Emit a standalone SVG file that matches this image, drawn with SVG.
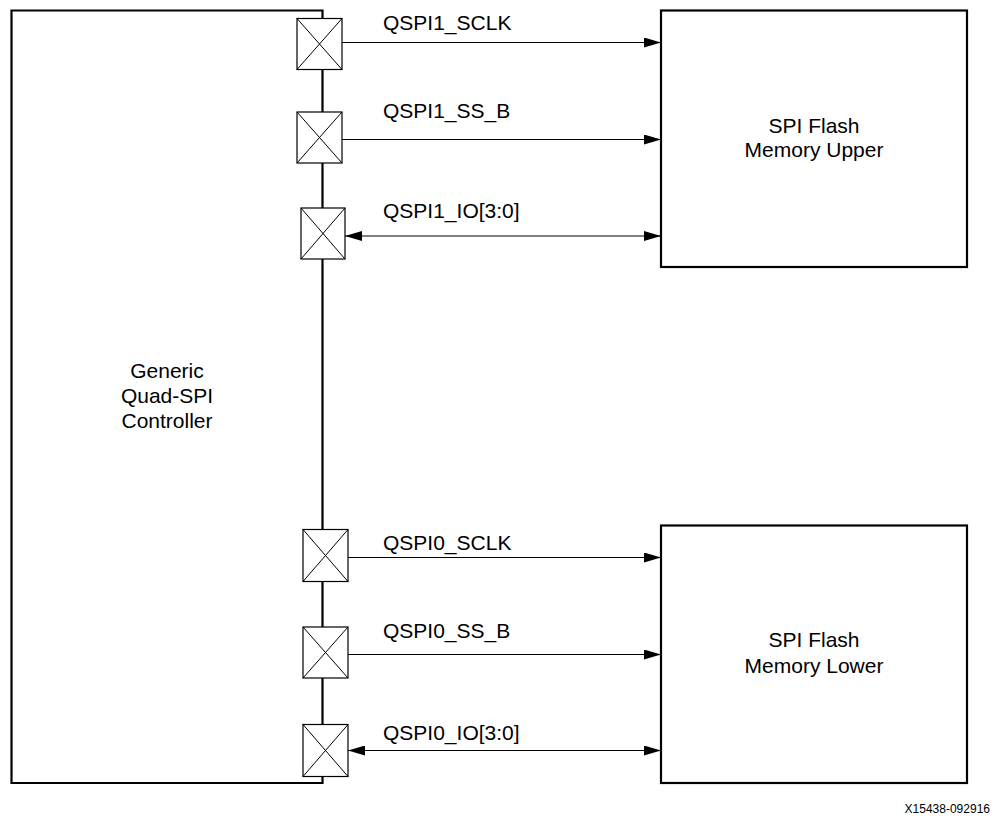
<svg xmlns="http://www.w3.org/2000/svg" width="999" height="819" viewBox="0 0 999 819">
<defs>
<style>
.blk{fill:#fff;stroke:#000;stroke-width:2.2}
.pad{fill:#fff;stroke:#000;stroke-width:1.2}
.padx{stroke:#000;stroke-width:1}
.wire{stroke:#000;stroke-width:1.2;fill:none}
.t{font-family:"Liberation Sans",Arial,sans-serif;font-size:21px;fill:#000}
.c{text-anchor:middle}
.f{font-family:"Liberation Sans",Arial,sans-serif;font-size:12px;fill:#000}
</style>
<marker id="ah" viewBox="0 0 17 10" refX="17" refY="5" markerWidth="17" markerHeight="10" markerUnits="userSpaceOnUse" orient="auto-start-reverse">
<path d="M0,0 L17,5 L0,10 Z" fill="#000"/>
</marker>
</defs>
<g id="controller">
<path class="blk" d="M11.5,783 L11.5,10.5 L322.5,10.5 L322.5,783 Z"/>
<text class="t c" x="167" y="378">Generic</text>
<text class="t c" x="167" y="403">Quad-SPI</text>
<text class="t c" x="167" y="428">Controller</text>
</g>
<g id="flash_upper">
<rect class="blk" x="661" y="10.5" width="306" height="256.5"/>
<text class="t c" x="814" y="133">SPI Flash</text>
<text class="t c" x="814" y="157">Memory Upper</text>
</g>
<g id="flash_lower">
<rect class="blk" x="661" y="525.5" width="306" height="257.5"/>
<text class="t c" x="814" y="647">SPI Flash</text>
<text class="t c" x="814" y="673">Memory Lower</text>
</g>
<g id="pad1"><rect class="pad" x="297" y="18.5" width="45" height="51"/><path class="padx" d="M297,18.5 L342,69.5 M342,18.5 L297,69.5"/></g>
<g id="pad2"><rect class="pad" x="297" y="112" width="45" height="51"/><path class="padx" d="M297,112 L342,163 M342,112 L297,163"/></g>
<g id="pad3"><rect class="pad" x="301" y="208" width="44" height="51"/><path class="padx" d="M301,208 L345,259 M345,208 L301,259"/></g>
<g id="pad4"><rect class="pad" x="303" y="529.5" width="45" height="52"/><path class="padx" d="M303,529.5 L348,581.5 M348,529.5 L303,581.5"/></g>
<g id="pad5"><rect class="pad" x="303" y="627" width="45" height="51"/><path class="padx" d="M303,627 L348,678 M348,627 L303,678"/></g>
<g id="pad6"><rect class="pad" x="303" y="724.5" width="45" height="52"/><path class="padx" d="M303,724.5 L348,776.5 M348,724.5 L303,776.5"/></g>
<g id="connectors">
<line class="wire" x1="342" y1="42.5" x2="661" y2="42.5" marker-end="url(#ah)"/>
<line class="wire" x1="342" y1="139.5" x2="661" y2="139.5" marker-end="url(#ah)"/>
<line class="wire" x1="345" y1="236" x2="661" y2="236" marker-start="url(#ah)" marker-end="url(#ah)"/>
<line class="wire" x1="348" y1="557.5" x2="661" y2="557.5" marker-end="url(#ah)"/>
<line class="wire" x1="348" y1="654.5" x2="661" y2="654.5" marker-end="url(#ah)"/>
<line class="wire" x1="348" y1="750.5" x2="661" y2="750.5" marker-start="url(#ah)" marker-end="url(#ah)"/>
<text class="t" x="383" y="30">QSPI1_SCLK</text>
<text class="t" x="383" y="118">QSPI1_SS_B</text>
<text class="t" x="383" y="218">QSPI1_IO[3:0]</text>
<text class="t" x="383" y="550">QSPI0_SCLK</text>
<text class="t" x="383" y="638">QSPI0_SS_B</text>
<text class="t" x="383" y="740">QSPI0_IO[3:0]</text>
</g>
<text class="f" x="990" y="813" text-anchor="end">X15438-092916</text>
</svg>
